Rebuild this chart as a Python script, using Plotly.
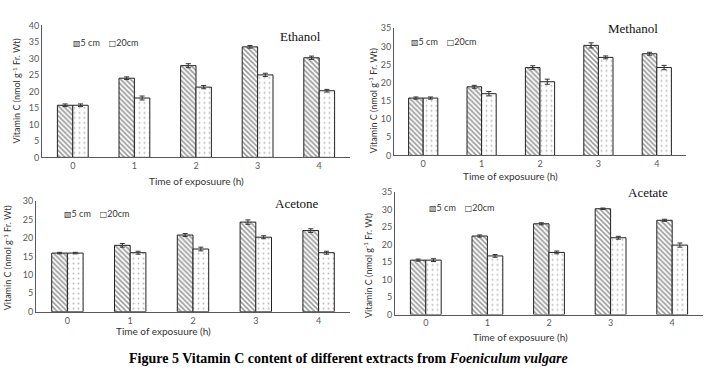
import plotly.graph_objects as go

W, H = 706, 373

times = ["0", "1", "2", "3", "4"]
series_names = ["5 cm", "20cm"]

ethanol_5 = [15.8, 24.0, 27.8, 33.5, 30.2]
ethanol_20 = [15.8, 18.0, 21.3, 25.0, 20.2]
ethanol_5_err = [0.4, 0.4, 0.6, 0.4, 0.5]
ethanol_20_err = [0.4, 0.6, 0.5, 0.5, 0.4]

methanol_5 = [15.8, 18.9, 24.2, 30.3, 28.0]
methanol_20 = [15.8, 17.0, 20.3, 27.0, 24.2]
methanol_5_err = [0.3, 0.4, 0.5, 0.7, 0.4]
methanol_20_err = [0.3, 0.6, 0.7, 0.4, 0.6]

acetone_5 = [15.9, 18.0, 20.8, 24.3, 22.0]
acetone_20 = [15.9, 16.0, 17.0, 20.2, 16.0]
acetone_5_err = [0.2, 0.5, 0.4, 0.6, 0.5]
acetone_20_err = [0.2, 0.4, 0.5, 0.4, 0.4]

acetate_5 = [15.6, 22.5, 26.0, 30.3, 27.0]
acetate_20 = [15.6, 16.8, 17.8, 22.0, 19.9]
acetate_5_err = [0.3, 0.3, 0.3, 0.2, 0.3]
acetate_20_err = [0.4, 0.4, 0.4, 0.4, 0.6]

panels = [
    dict(name="Ethanol", s5=ethanol_5, s20=ethanol_20, e5=ethanol_5_err, e20=ethanol_20_err,
         ymax=40, box=(42, 350, 20, 156), title_xy=(300, 31),
         leg_xy=(71, 38), xt_xy=(196, 180), yt_xy=(17, 88)),
    dict(name="Methanol", s5=methanol_5, s20=methanol_20, e5=methanol_5_err, e20=methanol_20_err,
         ymax=35, box=(394, 686, 23, 154), title_xy=(633, 23),
         leg_xy=(409, 37), xt_xy=(510, 175), yt_xy=(373, 97)),
    dict(name="Acetone", s5=acetone_5, s20=acetone_20, e5=acetone_5_err, e20=acetone_20_err,
         ymax=30, box=(36, 350, 201, 315), title_xy=(297, 204),
         leg_xy=(62, 214), xt_xy=(163, 335), yt_xy=(8, 260)),
    dict(name="Acetate", s5=acetate_5, s20=acetate_20, e5=acetate_5_err, e20=acetate_20_err,
         ymax=35, box=(395, 703, 192, 318), title_xy=(648, 192),
         leg_xy=(427, 208), xt_xy=(520, 341), yt_xy=(368, 268)),
]

def fx(p):
    return p / W

def fy(p):
    return 1 - p / H

fig = go.Figure()
sans = "Lato, Open Sans, sans-serif"
tick_font = dict(family=sans, size=9, color="#595959")
annotations = []
layout_extra = {}
sym = "<span style='font-family:DejaVu Sans;font-size:8px'>{}</span>"

for i, p in enumerate(panels):
    k = "" if i == 0 else str(i + 1)
    xa, ya = "x" + k, "y" + k
    x0, x1, yt, yb = p["box"]
    fig.add_trace(go.Bar(
        x=times, y=p["s5"], name=series_names[0], xaxis=xa, yaxis=ya, showlegend=False,
        marker=dict(color="white", line=dict(color="#222222", width=1),
                    pattern=dict(shape="\\", fgcolor="#333333", bgcolor="white", size=3.5, solidity=0.45)),
        error_y=dict(type="data", array=p["e5"], color="#333333", thickness=1, width=2.5),
    ))
    fig.add_trace(go.Bar(
        x=times, y=p["s20"], name=series_names[1], xaxis=xa, yaxis=ya, showlegend=False,
        marker=dict(color="white", line=dict(color="#222222", width=1),
                    pattern=dict(shape=".", fgcolor="#777777", bgcolor="white", size=5, solidity=0.12)),
        error_y=dict(type="data", array=p["e20"], color="#333333", thickness=1, width=2.5),
    ))
    layout_extra["xaxis" + k] = dict(
        domain=[fx(x0), fx(x1)], anchor=ya, showline=True, linecolor="#595959", linewidth=1,
        showgrid=False, ticks="", tickfont=tick_font, fixedrange=True,
    )
    layout_extra["yaxis" + k] = dict(
        domain=[fy(yb), fy(yt)], anchor=xa, range=[0, p["ymax"]], dtick=5,
        showline=True, linecolor="#595959", linewidth=1, showgrid=False, ticks="",
        tickfont=tick_font, zeroline=False, fixedrange=True,
    )
    lx, ly = p["leg_xy"]
    annotations.append(dict(
        text=(sym.format("\u25A7") + series_names[0] + "\u2002\u2002"
              + sym.format("\u25A1") + series_names[1]),
        x=fx(lx), y=fy(ly), xref="paper", yref="paper", showarrow=False,
        xanchor="left", yanchor="middle",
        font=dict(family=sans, size=9, color="#333333"),
    ))
    tx, ty = p["title_xy"]
    annotations.append(dict(
        text=p["name"], x=fx(tx), y=fy(ty), xref="paper", yref="paper", showarrow=False,
        xanchor="center", yanchor="middle",
        font=dict(family="Liberation Serif, Times New Roman, serif", size=13, color="#111111"),
    ))
    ax_, ay_ = p["xt_xy"]
    annotations.append(dict(
        text="Time of exposuure (h)", x=fx(ax_), y=fy(ay_), xref="paper", yref="paper",
        showarrow=False, xanchor="center", yanchor="middle",
        font=dict(family=sans, size=10, color="#333333"),
    ))
    bx, by = p["yt_xy"]
    annotations.append(dict(
        text="Vitamin C (nmol g<sup>-1</sup> Fr. Wt)", x=fx(bx), y=fy(by), xref="paper", yref="paper",
        showarrow=False, xanchor="center", yanchor="middle", textangle=-90,
        font=dict(family=sans, size=9, color="#333333"),
    ))

annotations.append(dict(
    text="<b>Figure 5 Vitamin C content of different extracts from <i>Foeniculum vulgare</i></b>",
    x=fx(348), y=fy(363), xref="paper", yref="paper", showarrow=False,
    xanchor="center", yanchor="middle",
    font=dict(family="Liberation Serif, Times New Roman, serif", size=14, color="#000000"),
))

fig.update_layout(
    width=W, height=H, margin=dict(l=0, r=0, t=0, b=0),
    paper_bgcolor="white", plot_bgcolor="white",
    barmode="group", bargap=0.5, bargroupgap=0,
    annotations=annotations, showlegend=False, **layout_extra,
)

fig.write_html("out.html", config={"displayModeBar": False},
               post_script="document.body.style.margin='0';")
